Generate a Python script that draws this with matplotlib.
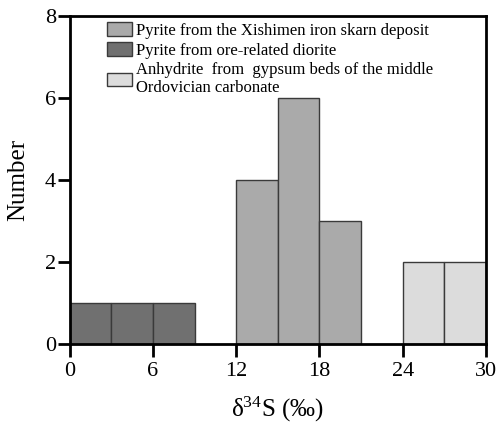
import matplotlib
matplotlib.use("Agg")
import matplotlib.pyplot as plt
import numpy as np

plt.rcParams['font.family'] = ['Liberation Serif', 'DejaVu Serif']
plt.rcParams['mathtext.fontset'] = 'custom'
plt.rcParams['mathtext.rm'] = 'Liberation Serif'

# bin left edges (per mil) and counts for each group
skarn_bins = [12, 15, 18]
skarn_counts = [4, 6, 3]
diorite_bins = [0, 3, 6]
diorite_counts = [1, 1, 1]
anhydrite_bins = [24, 27]
anhydrite_counts = [2, 2]
bin_width = 3

labels = ['Pyrite from the Xishimen iron skarn deposit',
          'Pyrite from ore-related diorite',
          'Anhydrite  from  gypsum beds of the middle\nOrdovician carbonate']

fig = plt.figure(figsize=(5.02, 4.25), dpi=100)
ax = fig.add_axes([0.139, 0.191, 0.829, 0.771])

edge = '#3a3a3a'
ax.bar(skarn_bins, skarn_counts, width=bin_width, align='edge',
       color='#aaaaaa', edgecolor=edge, linewidth=1, label=labels[0])
ax.bar(diorite_bins, diorite_counts, width=bin_width, align='edge',
       color='#707070', edgecolor=edge, linewidth=1, label=labels[1])
ax.bar(anhydrite_bins, anhydrite_counts, width=bin_width, align='edge',
       color='#dcdcdc', edgecolor=edge, linewidth=1, label=labels[2])

ax.set_xlim(0, 30)
ax.set_ylim(0, 8)
ax.set_xticks(np.arange(0, 31, 6))
ax.set_yticks(np.arange(0, 9, 2))
ax.tick_params(direction='out', length=9, width=2, labelsize=16)
ax.tick_params(axis='x', pad=4)
ax.tick_params(axis='y', pad=1)
for s in ax.spines.values():
    s.set_linewidth(2)

ax.set_xlabel(r'$\mathregular{\delta^{34}}$S (‰)', fontsize=18, labelpad=10)
ax.set_ylabel('Number', fontsize=18, labelpad=11)

leg = ax.legend(loc='upper left', bbox_to_anchor=(0.063, 1.015), frameon=False,
                fontsize=12, handlelength=1.5, handleheight=0.9,
                handletextpad=0.25, labelspacing=0.2, borderaxespad=0.25)

fig.savefig('out.png', dpi=100)
